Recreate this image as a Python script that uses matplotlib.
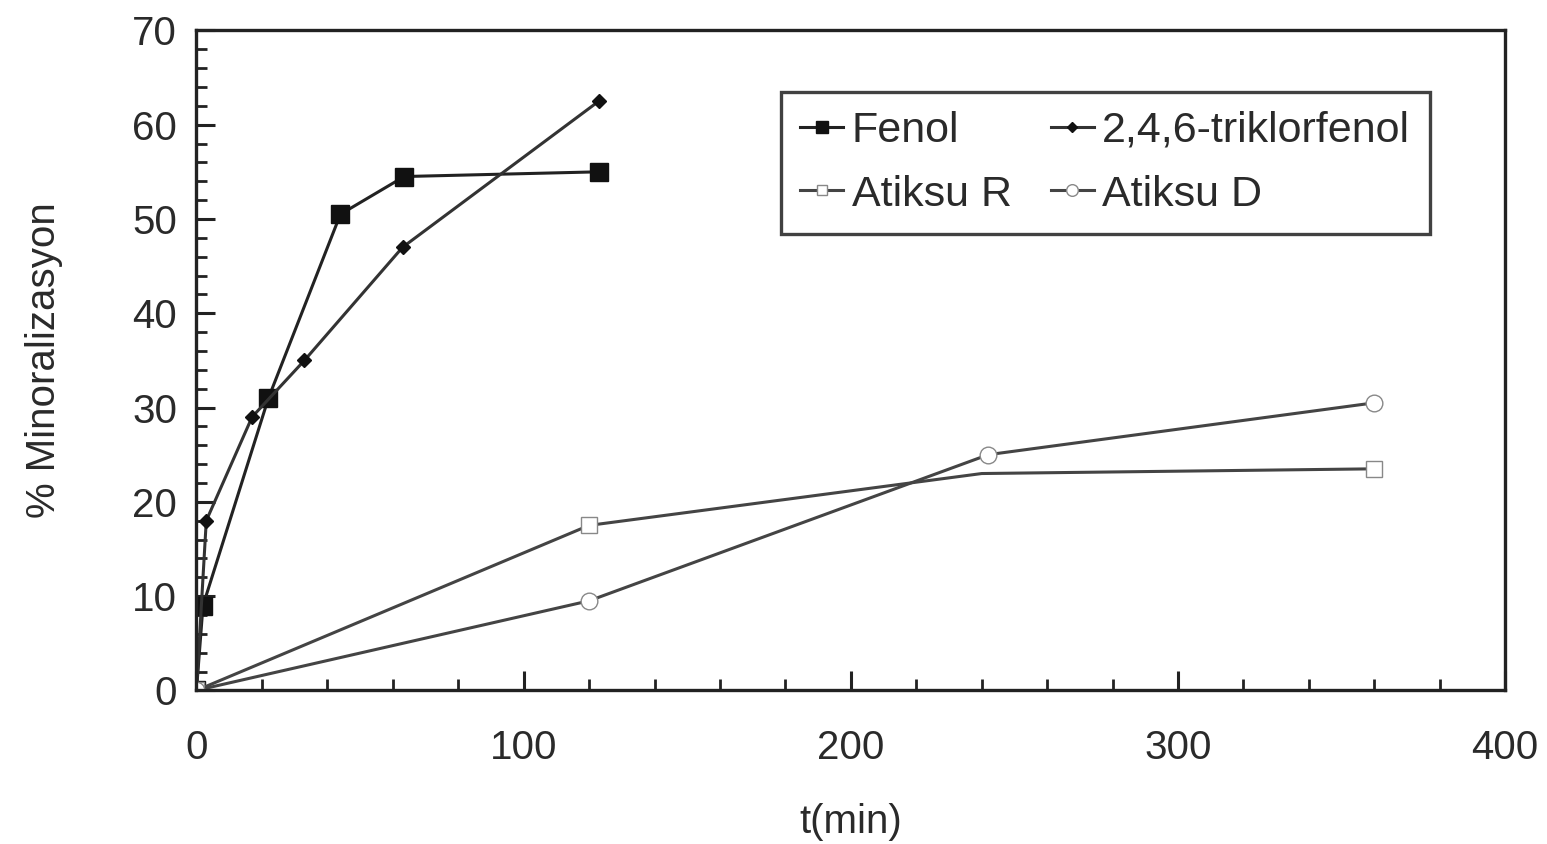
import matplotlib
matplotlib.use("Agg")
from matplotlib import pyplot as plt
from matplotlib.ticker import MultipleLocator

# data
fenol_t = [0, 2, 22, 44, 63.5, 123]
fenol_y = [0, 9, 31, 50.5, 54.5, 55]

tcp_t = [0, 3, 17, 33, 63, 123]
tcp_y = [0, 18, 29, 35, 47, 62.5]

atiksu_r_t = [0, 120, 240, 360]
atiksu_r_y = [0, 17.5, 23, 23.5]

atiksu_d_t = [0, 120, 242, 360]
atiksu_d_y = [0, 9.5, 25, 30.5]

plt.rcParams['font.family'] = ['Liberation Sans', 'DejaVu Sans']
text_color = '#2a2a2a'

fig = plt.figure(figsize=(15.47, 8.44), dpi=100)
ax = fig.add_axes([0.127, 0.182, 0.846, 0.782])

ax.plot(fenol_t, fenol_y, color='#222222', lw=2.2, marker='s', ms=13,
        mfc='#111111', mec='#111111', label='Fenol')
ax.plot(atiksu_r_t, atiksu_r_y, color='#444444', lw=2.2, marker='s', ms=11,
        mfc='white', mec='#888888', markevery=[0, 1, 3], label='Atiksu R')
ax.plot(tcp_t, tcp_y, color='#333333', lw=2.2, marker='D', ms=7,
        mfc='#111111', mec='#111111', label='2,4,6-triklorfenol')
ax.plot(atiksu_d_t, atiksu_d_y, color='#444444', lw=2.2, marker='o', ms=12,
        mfc='white', mec='#888888', label='Atiksu D')

ax.set_xlim(0, 400)
ax.set_ylim(0, 70)
ax.xaxis.set_major_locator(MultipleLocator(100))
ax.xaxis.set_minor_locator(MultipleLocator(20))
ax.yaxis.set_major_locator(MultipleLocator(10))
ax.yaxis.set_minor_locator(MultipleLocator(2))
ax.tick_params(which='major', direction='in', length=14, width=2.2,
               labelsize=29, labelcolor=text_color, color='#222222')
ax.tick_params(which='minor', direction='in', length=8, width=2,
               color='#222222')
ax.tick_params(axis='x', which='major', pad=28)
ax.tick_params(axis='y', which='major', pad=14)
for s in ax.spines.values():
    s.set_linewidth(2.4)
    s.set_color('#222222')

ax.set_xlabel('t(min)', fontsize=29, color=text_color, labelpad=26)
ax.set_ylabel('% Minoralizasyon', fontsize=29, color=text_color, labelpad=50)

leg = ax.legend(loc='upper left', bbox_to_anchor=(0.43, 0.94), ncol=2,
                fontsize=31, frameon=True, fancybox=False, handlelength=1.0,
                handletextpad=0.2, columnspacing=0.9, borderpad=0.45,
                labelspacing=0.55, markerscale=0.7)
leg.get_frame().set_edgecolor('#111111')
leg.get_frame().set_linewidth(2.4)
for t in leg.get_texts():
    t.set_color(text_color)

fig.savefig('out.png', dpi=100)
